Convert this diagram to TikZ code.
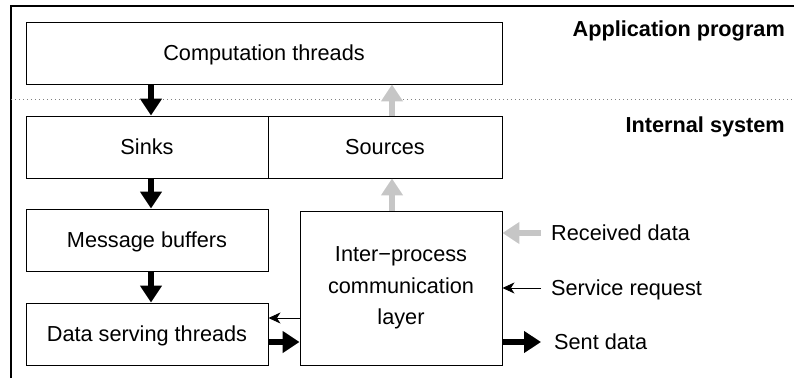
\documentclass[tikz,border=0pt]{standalone}
\usepackage{fontspec}
\setmainfont{Liberation Sans}
\usetikzlibrary{arrows.meta}

\begin{document}
\begin{tikzpicture}[x=1pt, y=1pt,
    font=\fontsize{21.7pt}{31.5pt}\selectfont,
    block/.style={draw, line width=0.9pt, inner sep=0pt, minimum height=62pt,
        text height=15.5pt, text depth=0pt},
    heavy/.style={line width=5.5pt, -{Triangle[length=17pt,width=21pt]}},
    faint/.style={heavy, gray!45},
    thinarrow/.style={line width=1pt, -{Stealth[length=12pt,width=11pt,inset=3.5pt]}},
    layer/.style={font=\fontsize{21.7pt}{31.5pt}\selectfont\bfseries, anchor=base east, inner sep=0pt},
    side/.style={anchor=west, inner ysep=0pt, inner xsep=10pt, text height=15.5pt, text depth=0pt}]
    \def\shiftX{4pt}

    \useasboundingbox (0,0) rectangle (794,378);

    \draw[line width=1.2pt] (11,0) -- (11,372) -- (794,372);
    \draw[gray, line width=1pt, dash pattern=on 1pt off 3pt] (11,278) -- (794,278);

    \node[block, minimum width=476pt] (comp) at (264,325) {Computation threads};
    \node[block, minimum width=242pt] (sinks) at (147,231) {Sinks};
    \node[block, minimum width=234pt] (sources) at (385,231) {Sources};
    \node[block, minimum width=242pt] (buffers) at (147,138) {Message buffers};
    \node[block, minimum width=242pt] (serving) at (147,44) {Data serving threads};
    \node[draw, line width=0.9pt, minimum width=202pt, minimum height=154pt, align=center]
        (ipc) at (401,90) {Inter−process\\communication\\layer};

    \node[layer] (app) at (785,341) {Application program};
    \node[layer] (internal) at (785,245) {Internal system};

    \node[side] (received) at (541,145) {Received data};
    \node[side] (request) at (541,90) {Service request};
    \node[side, inner xsep=13pt] (sent) at (541,36) {Sent data};

    % data flowing down to the serving threads
    \foreach \from/\to in {comp/sinks, sinks/buffers, buffers/serving}
        \draw[heavy] ([xshift=\shiftX]\to.north |- \from.south) -- ([xshift=\shiftX]\to.north);

    % received data flowing up
    \draw[faint] ([xshift=7pt]sources.north) -- ([xshift=7pt]sources.north |- comp.south);
    \draw[faint] ([xshift=-9pt]ipc.north) -- ([xshift=-9pt]ipc.north |- sources.south);

    \coordinate (back) at ([yshift=-30pt]ipc.west);
    \coordinate (out) at ([yshift=-8pt]serving.east);
    \draw[thinarrow] (back) -- (back -| serving.east);
    \draw[heavy] (out) -- (out -| ipc.west);

    \draw[faint] (received.west) -- (received.west -| ipc.east);
    \draw[thinarrow] (request.west) -- (request.west -| ipc.east);
    \draw[heavy] (sent.west -| ipc.east) -- (sent.west);
\end{tikzpicture}
\end{document}
